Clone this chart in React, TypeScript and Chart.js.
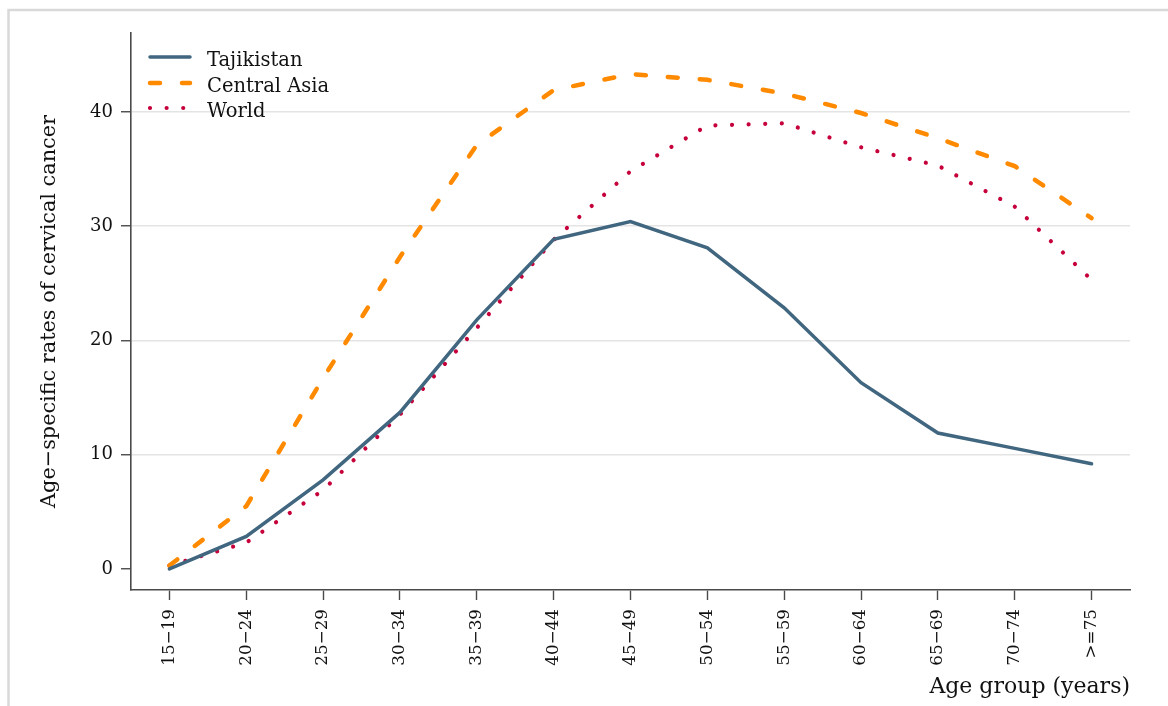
import { useEffect, useRef } from "react";
import { Chart, registerables } from "chart.js";

Chart.register(...registerables);

const categories = [
  "15−19", "20−24", "25−29", "30−34", "35−39", "40−44", "45−49",
  "50−54", "55−59", "60−64", "65−69", "70−74", ">=75",
];
const tajikistan = [0, 2.85, 7.8, 13.7, 21.8, 28.85, 30.4, 28.1, 22.85, 16.3, 11.9, 10.55, 9.2];
const centralAsia = [0.3, 5.5, 16.7, 27.3, 37.1, 41.9, 43.3, 42.8, 41.6, 39.9, 37.7, 35.25, 30.7];
const world = [0.3, 2.3, 6.9, 13.5, 21.1, 28.8, 34.8, 38.8, 39.0, 36.9, 35.3, 31.7, 25.3];
const yTicks = [0, 10, 20, 30, 40];
const seriesNames = ["Tajikistan", "Central Asia", "World"];

const FONT = "'DejaVu Serif', serif";
const AXIS = "#4a4a4a";

const framePlugin = {
  id: "frame",
  beforeDraw(chart: any) {
    const { ctx, width, height } = chart;
    ctx.save();
    ctx.fillStyle = "#ffffff";
    ctx.fillRect(0, 0, width, height);
    ctx.strokeStyle = "#d9d9d9";
    ctx.lineWidth = 2.5;
    ctx.beginPath();
    ctx.moveTo(8.5, height);
    ctx.lineTo(8.5, 10);
    ctx.lineTo(width, 10);
    ctx.stroke();
    ctx.restore();
  },
};

const legendPlugin = {
  id: "insideLegend",
  afterDraw(chart: any) {
    const { ctx, chartArea } = chart;
    const x0 = chartArea.left + 19;
    const x1 = chartArea.left + 59;
    const tx = chartArea.left + 76;
    const rows = [chartArea.top + 24, chartArea.top + 50, chartArea.top + 75];
    ctx.save();
    chart.data.datasets.forEach((ds: any, i: number) => {
      const y = rows[i];
      ctx.beginPath();
      ctx.strokeStyle = ds.borderColor;
      ctx.lineWidth = ds.borderWidth;
      ctx.lineCap = ds.borderCapStyle || "butt";
      ctx.setLineDash(ds.borderDash || []);
      ctx.moveTo(x0, y);
      ctx.lineTo(x1, y);
      ctx.stroke();
      ctx.setLineDash([]);
      ctx.fillStyle = "#111111";
      ctx.font = `19.5px ${FONT}`;
      ctx.textBaseline = "alphabetic";
      ctx.textAlign = "left";
      ctx.fillText(ds.label, tx, y + 8.5);
    });
    ctx.restore();
  },
};

export default function App() {
  const canvasRef = useRef<HTMLCanvasElement | null>(null);

  useEffect(() => {
    const canvas = canvasRef.current;
    if (!canvas) return;
    const chart = new Chart(canvas, {
      type: "line",
      data: {
        labels: categories,
        datasets: [
          {
            label: seriesNames[0],
            data: tajikistan,
            borderColor: "#41667f",
            borderWidth: 3.5,
            borderCapStyle: "round",
            borderJoinStyle: "miter",
            pointRadius: 0,
            fill: false,
          },
          {
            label: seriesNames[1],
            data: centralAsia,
            borderColor: "#ff8a00",
            borderWidth: 4.5,
            borderDash: [10, 22],
            borderCapStyle: "round",
            pointRadius: 0,
            fill: false,
          },
          {
            label: seriesNames[2],
            data: world,
            borderColor: "#c6003a",
            borderWidth: 4.2,
            borderDash: [0.01, 16.6],
            borderCapStyle: "round",
            pointRadius: 0,
            fill: false,
          },
        ] as any,
      },
      options: {
        animation: false,
        responsive: false,
        maintainAspectRatio: false,
        layout: { padding: { left: 0, top: 33, right: 38, bottom: 0 } },
        plugins: {
          legend: { display: false },
          tooltip: { enabled: false },
          title: { display: false },
        },
        scales: {
          x: {
            type: "category",
            offset: true,
            afterFit: (scale: any) => {
              scale.height = 116;
            },
            border: { display: true, color: AXIS, width: 1.6 },
            grid: {
              display: true,
              drawOnChartArea: false,
              drawTicks: true,
              tickLength: 10,
              tickColor: AXIS,
              tickWidth: 1.4,
            },
            ticks: {
              autoSkip: false,
              maxRotation: 90,
              minRotation: 90,
              padding: 9,
              color: "#111111",
              font: { family: FONT, size: 16.8 },
            },
            title: {
              display: true,
              text: "Age group (years)",
              align: "end",
              color: "#111111",
              font: { family: FONT, size: 22 },
              padding: { top: 0, bottom: 6 },
            },
          },
          y: {
            type: "linear",
            min: -1.84,
            max: 46.9,
            afterFit: (scale: any) => {
              scale.width = 131;
            },
            afterBuildTicks: (scale: any) => {
              scale.ticks = yTicks.map((v) => ({ value: v }));
            },
            border: { display: true, color: AXIS, width: 1.6 },
            grid: {
              display: true,
              drawTicks: true,
              tickLength: 10,
              tickColor: AXIS,
              tickWidth: 1.4,
              lineWidth: 1.5,
              color: (ctx: any) =>
                ctx.tick && ctx.tick.value === 0 ? "rgba(0,0,0,0)" : "#e4e4e4",
            },
            ticks: {
              padding: 8,
              color: "#111111",
              font: { family: FONT, size: 18 },
            },
            title: {
              display: true,
              text: "Age−specific rates of cervical cancer",
              color: "#111111",
              font: { family: FONT, size: 20.8 },
              padding: { top: 37, bottom: 0 },
            },
          },
        },
      } as any,
      plugins: [framePlugin, legendPlugin],
    });
    return () => chart.destroy();
  }, []);

  return (
    <div
      style={{
        position: "fixed",
        left: 0,
        top: 0,
        width: 1168,
        height: 706,
        background: "#ffffff",
        overflow: "hidden",
      }}
    >
      <canvas
        ref={canvasRef}
        width={1168}
        height={706}
        style={{ display: "block", width: 1168, height: 706 }}
      />
    </div>
  );
}
